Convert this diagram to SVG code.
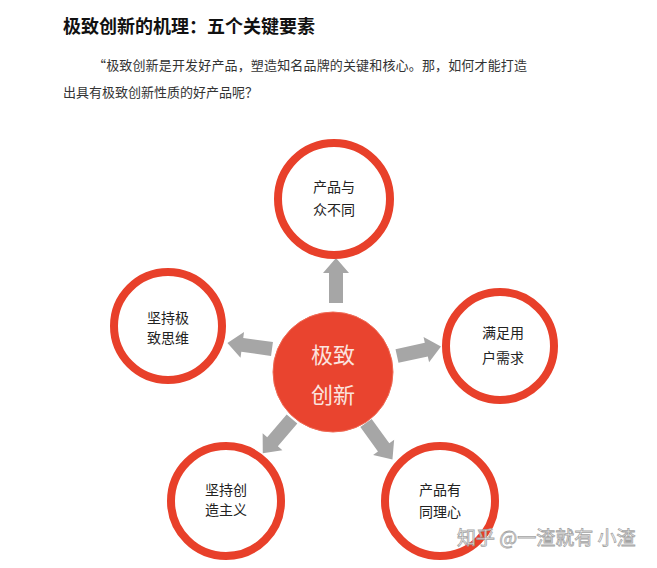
<svg xmlns="http://www.w3.org/2000/svg" xmlns:xlink="http://www.w3.org/1999/xlink" width="657" height="568" viewBox="0 0 657 568">
<style>
.title{font-family:"Noto Sans CJK SC",sans-serif;font-size:18px;font-weight:bold;fill:#111}
.para{font-family:"Noto Sans CJK SC",sans-serif;font-size:13px;fill:#333}
.ring{fill:#fff;stroke:#e8402a;stroke-width:8}
.lbl{font-family:"Noto Sans CJK SC",sans-serif;font-size:14px;fill:#222;text-anchor:middle}
.hub{fill:#e9442f;stroke:#ef6a55;stroke-width:1}
.hublbl{font-family:"Noto Sans CJK SC",sans-serif;font-size:22px;fill:#fbe3df;text-anchor:middle}
.arrow{fill:#a6a6a6}
.wm{font-family:"Noto Sans CJK SC",sans-serif;font-size:19px;fill:#fff;stroke:#9a9a9a;stroke-width:0.8;opacity:0.9}
</style>
<defs>
<path id="arr" d="M0,-7 L30,-7 L30,-13 L45,0 L30,13 L30,7 L0,7 Z"/>
</defs>
<rect width="657" height="568" fill="#fff"/>
<text class="title" x="63" y="33">极致创新的机理：五个关键要素</text>
<text class="para" x="93" y="70" textLength="434" lengthAdjust="spacing">“极致创新是开发好产品，塑造知名品牌的关键和核心。那，如何才能打造</text>
<text class="para" x="63" y="97" textLength="195" lengthAdjust="spacing">出具有极致创新性质的好产品呢？</text>
<g id="connectors" class="arrow">
<use xlink:href="#arr" href="#arr" transform="translate(336,303) rotate(-90)"/>
<use xlink:href="#arr" href="#arr" transform="translate(272,349) rotate(-172.2)"/>
<use xlink:href="#arr" href="#arr" transform="translate(397,356) rotate(-12.3)"/>
<use xlink:href="#arr" href="#arr" transform="translate(292,419) rotate(130.5)"/>
<use xlink:href="#arr" href="#arr" transform="translate(366,423) rotate(54)"/>
</g>
<g id="hub">
<circle class="hub" cx="333" cy="372" r="60"/>
<text class="hublbl" x="333" y="363">极致</text>
<text class="hublbl" x="333" y="403">创新</text>
</g>
<g id="node-top">
<circle class="ring" cx="334" cy="199" r="56"/>
<text class="lbl" x="334" y="192">产品与</text>
<text class="lbl" x="334" y="215">众不同</text>
</g>
<g id="node-left">
<circle class="ring" cx="168" cy="326" r="54"/>
<text class="lbl" x="168" y="323">坚持极</text>
<text class="lbl" x="168" y="343">致思维</text>
</g>
<g id="node-right">
<circle class="ring" cx="500" cy="346" r="54"/>
<text class="lbl" x="503" y="338">满足用</text>
<text class="lbl" x="503" y="363">户需求</text>
</g>
<g id="node-bottom-left">
<circle class="ring" cx="226" cy="501" r="55"/>
<text class="lbl" x="226" y="495">坚持创</text>
<text class="lbl" x="226" y="515">造主义</text>
</g>
<g id="node-bottom-right">
<circle class="ring" cx="440" cy="501" r="55"/>
<text class="lbl" x="440" y="495">产品有</text>
<text class="lbl" x="440" y="517">同理心</text>
</g>
<text class="wm" x="457" y="545">知乎 @一渣就有 小渣</text>
</svg>
